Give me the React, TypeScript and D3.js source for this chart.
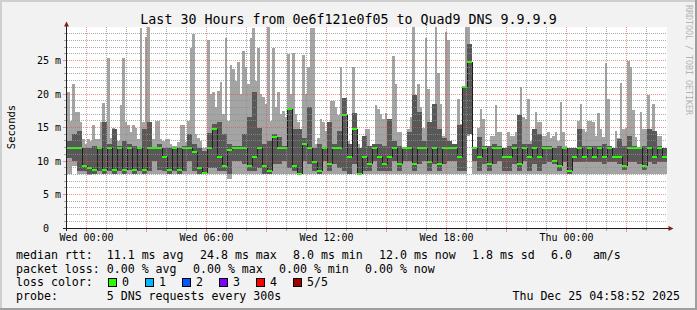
import React from "react";
import * as d3 from "d3";

// ---- data (ms) ----
// smoke maximum, 7.5-minute half columns (240)
const maxV = [
  20.3,16,21.5,17.3,17.3,15.8,13.3,12.5,13.3,13.0,15.3,13.3,13.3,15.8,18.6,13,25.4,13.5,15.0,13.8,13,18.4,25.4,15.8,
  15.3,14.3,15.3,15.0,13.3,29.9,15.8,28.5,31,13.3,13.3,15.9,15.9,13.3,13.0,13.3,13.3,12.5,12.3,12.3,12.8,15.3,15.3,12.8,
  16,26.8,28.9,14,13.5,13.0,12.0,12.0,28.1,20,20.3,18,20.5,21.8,17,28.3,16,24.3,23.8,22,24.8,20,26.4,24,
  21.5,28.3,29.8,22,26.8,20,19.5,18.5,31,16,26.8,18,20.3,17,17.5,16.5,26.0,20,26.1,17,15.8,14.5,25.8,20,
  24,29.9,29.9,12.5,13.5,16.2,15.8,14.5,12.0,19.0,19.0,18,16.8,24.0,19.4,13.3,13.0,12.0,24.0,17.1,12.6,12.0,13.3,14.8,
  14.8,12.0,12.0,18.4,17.8,17.0,16.2,17.1,12.0,12.0,25.6,21.5,14.3,14.3,12.0,12.0,14.8,16.5,31,19.8,21.5,18,15,28.3,
  20.8,13.8,13.8,31,23.1,18.5,13.8,29.3,28.1,13.0,12.3,12.3,19.3,15.5,18.8,31,31,13.3,12.0,12.0,15.0,17.8,16.2,12.0,
  12.0,13.8,13.8,18.4,14.3,14.3,12.0,12.0,14.3,13.8,13.8,14.3,14.3,21.0,16.5,16.2,19.3,13,12.0,17.3,15.8,15.8,13.8,13.8,
  14.3,13.5,13.8,14.3,13,18.8,14.3,12.3,12.0,12.0,12.0,12.0,16,18.5,14.8,14.3,16.0,16.0,15.8,13.8,17.1,14.8,13.6,24.6,
  19.3,12.0,12.0,14.5,13.5,21.7,14.8,15,24.9,24,17.6,13.6,12.0,17.3,14.8,14.8,19.8,13,18.5,14.3,13.8,13.8,12.0,12.0,
];
// 15-minute columns (120)
const upperV = [
  13,14,14.5,12.0,12.0,12.2,12.0,15.8,12.5,14.8,12.3,13,12.5,12.2,12.0,14.8,15.8,12.0,12.5,12.0,12.0,12.0,12.0,12.3,
  14.0,12.5,12.0,11.5,14.2,15.5,15.8,14.0,12.5,12.3,12.3,14.0,16.5,20.3,15,12.5,13.0,14.0,13.6,12.3,17.8,14.8,14.8,13.5,
  18.1,12.0,12.5,12.0,15.8,12.5,14.5,19.4,12.5,17.1,12.0,13.8,12.3,12.5,12.5,12.3,16.2,13.0,12.3,12.0,14.3,19.8,17.3,13.0,
  15.8,18.5,14.8,13.5,13.0,12.5,15.3,21.0,27.5,12.0,13.6,12.3,12.3,12.5,12.3,12.0,12.3,12.5,16.8,12.5,12.5,14.8,14.0,12.3,
  12.3,12.0,12.3,12.0,12.0,12.0,14.8,12.3,12.3,12.3,12.3,12.5,12.3,12.0,13.3,12.3,13.8,12.3,12.0,12.3,14.8,14.5,12.3,12.0,
];
const medianV = [
  11.9,11.9,11.9,9.25,9.0,8.7,11.9,8.7,11.9,8.7,11.9,8.7,11.9,8.7,11.9,8.7,11.9,11.9,11.9,10.6,8.7,11.9,8.7,11.9,
  11.9,11.3,9.0,8.2,11.9,14.8,10.6,9.25,11.6,11.9,11.9,11.9,9.25,10.6,11.9,9.25,8.5,13.6,11.9,11.9,17.8,9.25,8.0,12.6,
  11.9,9.85,8.5,11.9,9.6,11.9,11.9,16.8,10.6,14.8,8.0,10.6,9.6,11.9,10.6,9.6,10.6,11.9,9.6,11.9,11.9,9.6,11.9,11.9,
  9.85,11.9,9.6,11.9,11.9,11.9,10.6,21.0,24.8,11.9,10.6,11.9,9.6,11.9,11.9,10.6,10.6,11.9,9.6,11.9,10.6,11.9,10.6,11.9,
  11.9,10.0,9.25,11.9,8.5,10.6,11.9,10.6,11.9,10.6,11.9,10.6,11.9,10.6,10.6,9.25,11.9,11.9,11.9,9.25,11.9,10.6,11.9,10.6,
];
const lowerV = [
  10.5,10.0,8.5,8.5,8.0,8.0,8.5,8.0,8.5,8.0,8.5,8.0,8.7,8.0,8.5,8.0,8.5,10.0,8.7,8.5,8.0,8.5,8.0,8.5,
  10.0,8.5,8.0,8.0,9.0,9.0,8.5,8.5,8.0,10.0,10.0,9.5,8.5,8.5,9.0,8.0,8.0,9.5,9.5,10.0,9.0,8.5,8.0,10.0,
  9.5,8.5,8.0,10.0,8.5,9.5,9.0,8.5,8.0,9.5,8.0,8.5,8.5,10.0,8.5,8.5,8.5,10.0,8.5,10.0,10.0,8.5,9.5,10.0,
  8.5,9.5,8.5,9.5,10.0,10.0,8.5,8.5,14.0,10.0,8.5,9.5,8.5,9.5,10.0,8.5,8.5,9.5,8.5,10.0,8.5,9.5,8.5,9.5,
  9.85,9.5,8.5,9.85,8.0,9.85,9.85,9.85,9.85,9.85,9.85,9.5,9.85,9.85,9.5,8.7,9.85,9.85,9.5,8.7,9.85,9.5,9.85,9.85,
];
const minV = [
  8.0,9.3,8.0,8.0,7.9,8.0,8.0,8.0,8.0,8.0,8.0,8.0,8.0,8.0,8.0,8.0,8.0,8.0,8.0,8.0,8.0,8.0,8.0,8.0,
  8.0,8.0,8.0,8.0,8.0,8.0,8.0,8.0,7.3,8.0,8.0,8.0,8.0,8.0,8.0,8.0,8.0,8.0,8.0,8.0,8.0,8.0,8.0,8.0,
  8.0,8.0,8.0,8.0,8.0,8.0,8.0,8.0,8.0,8.0,8.0,8.0,8.0,8.0,8.0,8.0,8.0,8.0,8.0,8.0,8.0,8.0,8.0,8.0,
  8.0,8.0,8.0,8.0,8.0,8.0,8.0,8.0,13.8,8.0,8.0,8.0,8.0,8.0,8.0,8.0,8.0,8.0,8.0,8.0,8.0,8.0,8.0,8.0,
  8.0,8.0,8.0,8.0,8.0,8.0,8.0,8.0,8.0,8.0,8.0,8.0,8.0,8.0,8.0,8.0,8.0,8.0,8.0,8.0,8.0,8.0,8.0,8.0,
];

const yTickValues = [0, 5, 10, 15, 20, 25];
const yTickLabels = ["0  ", "5 m", "10 m", "15 m", "20 m", "25 m"];
const lossLabels = ["0", "1", "2", "3", "4", "5/5"];
const lossColors = ["#26ff00", "#00b8ff", "#0059ff", "#7e00ff", "#ff0000", "#a10000"];
const rttItems = ["median rtt:  11.1 ms avg", "24.8 ms max", "8.0 ms min", "12.0 ms now", "1.8 ms sd", "6.0   am/s"];
const lossItems = ["packet loss: 0.00 % avg", "0.00 % max", "0.00 % min", "0.00 % now"];
const lossTitle = "loss color:";
const probeText = "probe:       5 DNS requests every 300s";
const dateText = "Thu Dec 25 04:58:52 2025";
const titleText = "Last 30 Hours from 0e6f121e0f05 to Quad9 DNS 9.9.9.9";
const yTitle = "Seconds";
const watermark = "RRDTOOL / TOBI OETIKER";

const W = 697, H = 310;
const MONO = "'DejaVu Sans Mono', monospace";
const pre = { whiteSpace: "pre" as const };
const CH = 7; // legend character cell
const GAP = 16; // gap between legend elements

function placeItems(items: string[]) {
  let cx = 16;
  return items.map((s) => {
    const p = cx;
    cx += s.length * CH + GAP;
    return { s, x: p };
  });
}

export default function App() {
  const t0 = new Date(2025, 11, 23, 23, 0, 0);
  const t1 = new Date(2025, 11, 25, 5, 0, 0);
  const x = d3.scaleTime().domain([t0, t1]).range([66.5, 666.5]);
  const y = d3.scaleLinear().domain([0, 30]).range([228, 27]);
  const step = 15 * 60 * 1000;
  const half = step / 2;

  const hours = d3.timeHour.range(d3.timeHour.offset(t0, 1), t1);
  const minorH = hours.filter((h) => h.getHours() % 3 !== 0);
  const majorH = hours.filter((h) => h.getHours() % 3 === 0);
  const labelH = hours.filter((h) => h.getHours() % 6 === 0);
  const fmt = d3.timeFormat("%a %H:%M");

  const ms = d3.range(1, 30);
  const minorMs = ms.filter((v) => v % 5 !== 0);
  const majorMs = ms.filter((v) => v % 5 === 0);
  const py = (v: number) => Math.floor(y(v)) + 0.5;
  const px = (d: Date) => Math.floor(x(d)) + 0.5;

  const cols = upperV.map((up, i) => {
    const a = new Date(t0.getTime() + i * step);
    const b = new Date(t0.getTime() + (i + 1) * step);
    return { x0: x(a) + 0.5, x1: x(b) + 0.5, up, med: medianV[i], lo: lowerV[i], mn: minV[i] };
  });
  const halves = maxV.map((mx, j) => {
    const a = new Date(t0.getTime() + j * half);
    const b = new Date(t0.getTime() + (j + 1) * half);
    return { x0: x(a) + 0.5, x1: x(b) + 0.5, mx, mn: minV[Math.floor(j / 2)] };
  });

  const grid = "rgba(143,143,143,0.75)";
  const mgrid = "rgba(222,79,79,0.6)";
  const rtt = placeItems(rttItems);
  const loss = placeItems(lossItems);

  return (
    <svg width={W} height={H} style={{ position: "absolute", left: 0, top: 0, display: "block" }}>
      <defs>
        <clipPath id="plotclip">
          <rect x={67} y={27} width={600} height={201} />
        </clipPath>
      </defs>
      <rect x={0} y={0} width={W} height={H} fill="#f2f2f2" />
      <rect x={0} y={0} width={W} height={2} fill="#cfcfcf" />
      <rect x={0} y={0} width={2} height={H} fill="#cfcfcf" />
      <rect x={0} y={H - 2} width={W} height={2} fill="#9e9e9e" />
      <rect x={W - 2} y={0} width={2} height={H} fill="#9e9e9e" />
      <rect x={67} y={27} width={600} height={201} fill="#ffffff" />

      {/* smoke */}
      <g clipPath="url(#plotclip)" shapeRendering="crispEdges">
        {halves.map((c, j) => (
          <rect key={"l" + j} x={c.x0} y={y(c.mx)} width={c.x1 - c.x0} height={Math.max(0, y(c.mn) - y(c.mx))} fill="#a4a4a4" />
        ))}
        {cols.map((c, i) => (
          <rect key={"d" + i} x={c.x0} y={y(c.up)} width={c.x1 - c.x0} height={y(c.lo) - y(c.up)} fill="#585858" />
        ))}
        {cols.slice(1).map((c, i) => {
          const p = cols[i];
          if (p.med === c.med) return null;
          const ya = y(Math.max(p.med, c.med));
          const yb = y(Math.min(p.med, c.med));
          return <rect key={"k" + i} x={c.x0 - 0.5} y={ya} width={1} height={yb - ya} fill="#1e1e1e" />;
        })}
        {cols.map((c, i) => (
          <rect key={"m" + i} x={c.x0} y={y(c.med) - 1} width={c.x1 - c.x0} height={2} fill={lossColors[0]} />
        ))}
      </g>

      {/* grid */}
      <g strokeDasharray="1,1" strokeWidth={1}>
        {minorMs.map((v) => (
          <line key={"hm" + v} x1={67} x2={667} y1={py(v)} y2={py(v)} stroke={grid} />
        ))}
        {minorH.map((h) => (
          <line key={"vm" + h.getTime()} x1={px(h)} x2={px(h)} y1={27} y2={228} stroke={grid} />
        ))}
        {majorMs.map((v) => (
          <line key={"hM" + v} x1={67} x2={667} y1={py(v)} y2={py(v)} stroke={mgrid} />
        ))}
        {majorH.map((h) => (
          <line key={"vM" + h.getTime()} x1={px(h)} x2={px(h)} y1={27} y2={228} stroke={mgrid} />
        ))}
      </g>
      <g strokeWidth={1}>
        {minorMs.map((v) => (
          <line key={"tm" + v} x1={64} x2={66} y1={py(v)} y2={py(v)} stroke={grid} />
        ))}
        {majorMs.map((v) => (
          <line key={"tM" + v} x1={63} x2={66} y1={py(v)} y2={py(v)} stroke={mgrid} />
        ))}
        {minorH.map((h) => (
          <line key={"txm" + h.getTime()} x1={px(h)} x2={px(h)} y1={229} y2={231} stroke={grid} />
        ))}
        {majorH.map((h) => (
          <line key={"txM" + h.getTime()} x1={px(h)} x2={px(h)} y1={229} y2={232} stroke={mgrid} />
        ))}
      </g>

      {/* axes */}
      <line x1={66.5} x2={66.5} y1={231} y2={24} stroke="#1f1f1f" strokeWidth={1} />
      <line x1={63} x2={670} y1={228.5} y2={228.5} stroke="#1f1f1f" strokeWidth={1} />
      <path d="M64,26.5 L69,26.5 L66.5,21.5 Z" fill="#801f1f" />
      <path d="M668.5,226 L668.5,231 L673.5,228.5 Z" fill="#801f1f" />

      <g fontFamily={MONO} fontSize={10} fill="#000">
        {yTickValues.map((v, i) => (
          <text key={"yl" + v} x={61} y={py(v) + 3.5} textAnchor="end" xmlSpace="preserve" style={pre}>
            {yTickLabels[i]}
          </text>
        ))}
        {labelH.map((h) => (
          <text key={"xl" + h.getTime()} x={px(h)} y={241} textAnchor="middle" xmlSpace="preserve" style={pre}>
            {fmt(h)}
          </text>
        ))}
      </g>

      <text x={0} y={0} transform="translate(14.5,127) rotate(-90)" textAnchor="middle" fontFamily={MONO} fontSize={10.5} fill="#000">
        {yTitle}
      </text>

      <text x={348.5} y={24} textAnchor="middle" fontFamily={MONO} fontSize={13.3} fill="#000" xmlSpace="preserve" style={pre}>
        {titleText}
      </text>

      <text x={0} y={0} transform="translate(686,5) rotate(90)" fontFamily={MONO} fontSize={8.3} fill="#b4b4b4" xmlSpace="preserve" style={pre}>
        {watermark}
      </text>

      <g fontFamily={MONO} fontSize={11.6} fill="#000">
        {rtt.map((it) => (
          <text key={"r" + it.s} x={it.x} y={259} xmlSpace="preserve" style={pre}>{it.s}</text>
        ))}
        {loss.map((it, i) => (
          <text key={"p" + i} x={it.x} y={272.5} xmlSpace="preserve" style={pre}>{it.s}</text>
        ))}
        <text x={16} y={286} xmlSpace="preserve" style={pre}>{lossTitle}</text>
        {lossLabels.map((l, i) => (
          <g key={"lc" + l}>
            <rect x={108.5 + i * 37} y={278.5} width={8} height={8} fill={lossColors[i]} stroke="#000" strokeWidth={1} />
            <text x={122 + i * 37} y={286} xmlSpace="preserve" style={pre}>{l}</text>
          </g>
        ))}
        <text x={16} y={299.5} xmlSpace="preserve" style={pre}>{probeText}</text>
        <text x={680} y={299.5} textAnchor="end" xmlSpace="preserve" style={pre}>{dateText}</text>
      </g>
    </svg>
  );
}
